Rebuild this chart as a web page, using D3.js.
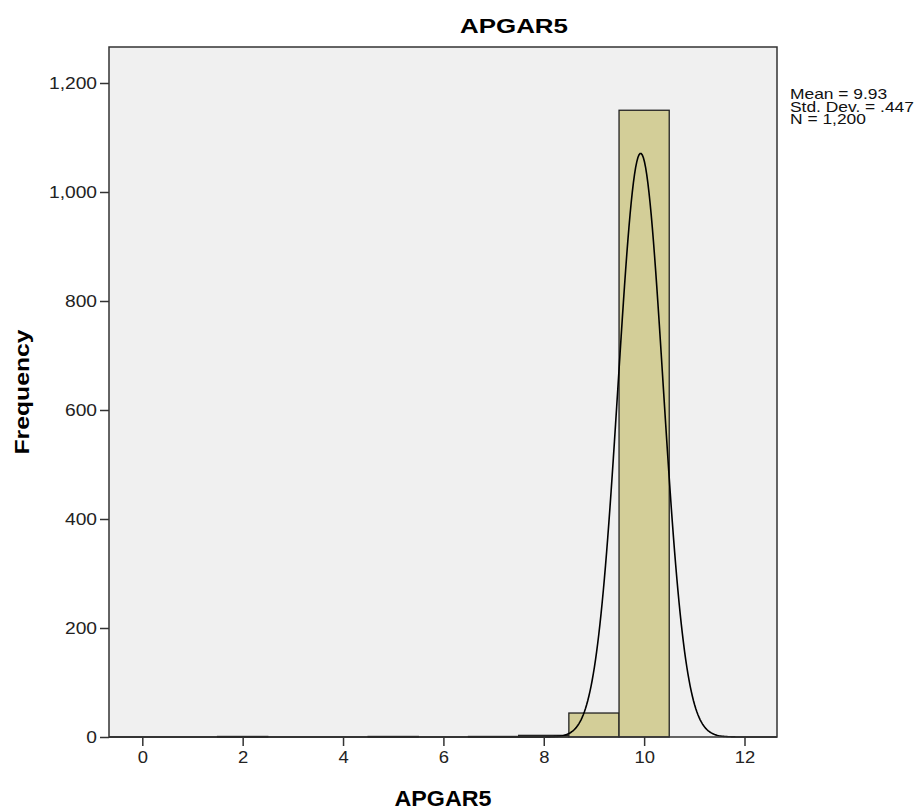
<!DOCTYPE html>
<html>
<head>
<meta charset="UTF-8">
<title>APGAR5</title>
<script src="https://d3js.org/d3.v7.min.js"></script>
<style>
  body { margin: 0; background: #fff; }
  svg { display: block; font-family: "Liberation Sans", Arial, sans-serif; }
</style>
</head>
<body>
<svg width="923" height="811"></svg>
<script>
// histogram bins (score, count)
const scores = [2, 5, 7, 8, 9, 10];
const counts = [1, 1, 1, 3, 44, 1150];
const xTicks = [0, 2, 4, 6, 8, 10, 12];
const yTicks = [0, 200, 400, 600, 800, 1000, 1200];
const stats = ["Mean = 9.93", "Std. Dev. = .447", "N = 1,200"];
const mean = 9.93, sd = 0.447, n = 1200;

const svg = d3.select("svg");
const pLeft = 109, pRight = 777, pTop = 47, pBottom = 737;

const x = d3.scaleLinear().domain([0, 12]).range([142.3, 744.5]);
const y = d3.scaleLinear().domain([0, 1200]).range([pBottom, 83]);

// the source image is a bit stretched sideways, so widen text to match
function widen(sel, k) {
  sel.each(function() {
    const w = this.getComputedTextLength();
    d3.select(this).attr("textLength", w * k).attr("lengthAdjust", "spacingAndGlyphs");
  });
}

// plot background
svg.append("rect")
  .attr("x", pLeft).attr("y", pTop)
  .attr("width", pRight - pLeft).attr("height", pBottom - pTop)
  .attr("fill", "#f0f0f0");

// bars
svg.append("g").selectAll("rect")
  .data(scores.map((s, i) => ({ s, c: counts[i] })))
  .enter().append("rect")
  .attr("x", d => x(d.s - 0.5))
  .attr("width", d => x(d.s + 0.5) - x(d.s - 0.5))
  .attr("y", d => y(d.c))
  .attr("height", d => y(0) - y(d.c))
  .attr("fill", "#d3ce98")
  .attr("stroke", "#222")
  .attr("stroke-width", 1.3);

// normal curve
const x0 = x.invert(pLeft), x1 = x.invert(pRight);
const pts = d3.range(0, 601).map(i => {
  const v = x0 + (x1 - x0) * i / 600;
  const dens = n / (sd * Math.sqrt(2 * Math.PI)) * Math.exp(-0.5 * ((v - mean) / sd) ** 2);
  return [v, dens];
});
svg.append("path")
  .datum(pts)
  .attr("fill", "none")
  .attr("stroke", "#000")
  .attr("stroke-width", 1.6)
  .attr("d", d3.line().x(d => x(d[0])).y(d => y(d[1])));

// frame
svg.append("rect")
  .attr("x", pLeft).attr("y", pTop)
  .attr("width", pRight - pLeft).attr("height", pBottom - pTop)
  .attr("fill", "none")
  .attr("stroke", "#333")
  .attr("stroke-width", 1.5);

// x axis
const xa = svg.append("g").attr("transform", `translate(0,${pBottom})`)
  .call(d3.axisBottom(x).tickValues(xTicks).tickSize(9).tickPadding(6).tickSizeOuter(0));
xa.select(".domain").remove();
xa.selectAll("line").attr("stroke", "#333").attr("stroke-width", 1.5);
xa.selectAll("text").attr("font-size", 16).attr("fill", "#222")
  .attr("font-family", "Liberation Sans, Arial, sans-serif");
widen(xa.selectAll("text"), 1.15);

// y axis
const ya = svg.append("g").attr("transform", `translate(${pLeft},0)`)
  .call(d3.axisLeft(y).tickValues(yTicks).tickSize(9).tickPadding(3)
    .tickFormat(d3.format(",")).tickSizeOuter(0));
ya.select(".domain").remove();
ya.selectAll("line").attr("stroke", "#333").attr("stroke-width", 1.5);
ya.selectAll("text").attr("font-size", 16).attr("fill", "#222")
  .attr("font-family", "Liberation Sans, Arial, sans-serif");
widen(ya.selectAll("text"), 1.2);

// title
svg.append("text")
  .attr("x", 514).attr("y", 33)
  .attr("text-anchor", "middle")
  .attr("font-size", 21).attr("font-weight", "bold")
  .attr("textLength", 108).attr("lengthAdjust", "spacingAndGlyphs")
  .text("APGAR5");

// axis titles
svg.append("text")
  .attr("x", 443).attr("y", 806)
  .attr("text-anchor", "middle")
  .attr("font-size", 22).attr("font-weight", "bold")
  .attr("textLength", 97).attr("lengthAdjust", "spacingAndGlyphs")
  .text("APGAR5");

svg.append("text")
  .attr("transform", "translate(29,392) rotate(-90)")
  .attr("text-anchor", "middle")
  .attr("font-size", 21).attr("font-weight", "bold")
  .attr("textLength", 125).attr("lengthAdjust", "spacingAndGlyphs")
  .text("Frequency");

// stats legend
const leg = svg.append("g").selectAll("text")
  .data(stats)
  .enter().append("text")
  .attr("x", 790)
  .attr("y", (d, i) => 99 + i * 12.5)
  .attr("font-size", 14.5)
  .attr("fill", "#111")
  .text(d => d);
widen(leg, 1.2);
</script>
</body>
</html>
